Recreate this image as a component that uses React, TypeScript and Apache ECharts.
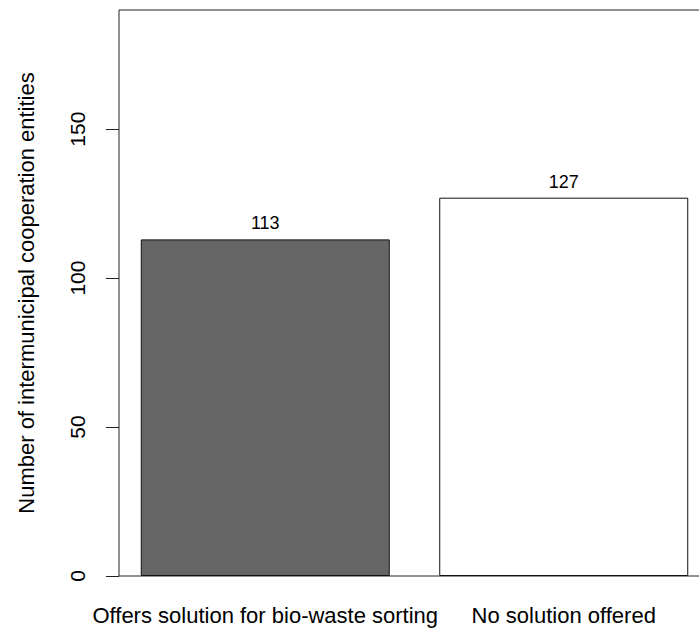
import React, { useEffect, useRef } from "react";
import * as echarts from "echarts";

const categories = ["Offers solution for bio-waste sorting", "No solution offered"];
const counts = [113, 127];
const fills = ["#666666", "#ffffff"];
const yTicks = [0, 50, 100, 150];
const yMax = 190;
// R barplot geometry: width 1, space 0.2
const barSpace = 0.2;
const barUnit = 1;

export default function App() {
  const ref = useRef<HTMLDivElement>(null);
  useEffect(() => {
    if (!ref.current) return;
    const chart = echarts.init(ref.current, undefined, { renderer: "svg" });
    const centers = categories.map((_, i) => barSpace + i * (barUnit + barSpace) + barUnit / 2);
    const lo = barSpace;
    const hi = barSpace + categories.length * (barUnit + barSpace) - barSpace;
    const pad = (hi - lo) * 0.04;
    const font = "Liberation Sans, Arial, sans-serif";
    chart.setOption({
      animation: false,
      textStyle: { fontFamily: font },
      grid: {
        left: 119,
        top: 10,
        width: 591,
        height: 566,
        show: true,
        borderColor: "#222",
        borderWidth: 1,
        backgroundColor: "transparent",
      },
      xAxis: {
        type: "value",
        min: lo - pad,
        max: hi + pad,
        axisLine: { show: false },
        axisTick: { show: false },
        splitLine: { show: false },
        axisLabel: {
          customValues: centers,
          formatter: (v: number) => {
            const idx = centers.findIndex((c) => Math.abs(c - v) < 1e-6);
            return idx >= 0 ? categories[idx] : "";
          },
          fontSize: 22,
          color: "#000",
          margin: 28,
          fontFamily: font,
        },
      },
      yAxis: {
        type: "value",
        min: 0,
        max: yMax,
        interval: 50,
        axisLine: { show: false },
        axisTick: { show: true, customValues: yTicks, length: 13, lineStyle: { color: "#222" } },
        splitLine: { show: false },
        axisLabel: {
          customValues: yTicks,
          rotate: 90,
          fontSize: 21,
          color: "#000",
          margin: 31,
          fontFamily: font,
        },
        name: "Number of intermunicipal cooperation entities",
        nameLocation: "middle",
        nameRotate: 90,
        nameGap: 82,
        nameTextStyle: { fontSize: 22, color: "#000", fontFamily: font },
      },
      series: [
        {
          type: "bar",
          barWidth: 249,
          data: counts.map((v, i) => ({
            value: [centers[i], v],
            itemStyle: { color: fills[i], borderColor: "#111", borderWidth: 1 },
          })),
          label: {
            show: true,
            position: "top",
            distance: 7,
            fontSize: 18,
            color: "#000",
            fontFamily: font,
          },
        },
      ],
    });
    return () => chart.dispose();
  }, []);
  return (
    <div style={{ width: 699, height: 630, position: "absolute", left: 0, top: 0, overflow: "hidden" }}>
      <div ref={ref} style={{ width: 740, height: 630 }} />
    </div>
  );
}
